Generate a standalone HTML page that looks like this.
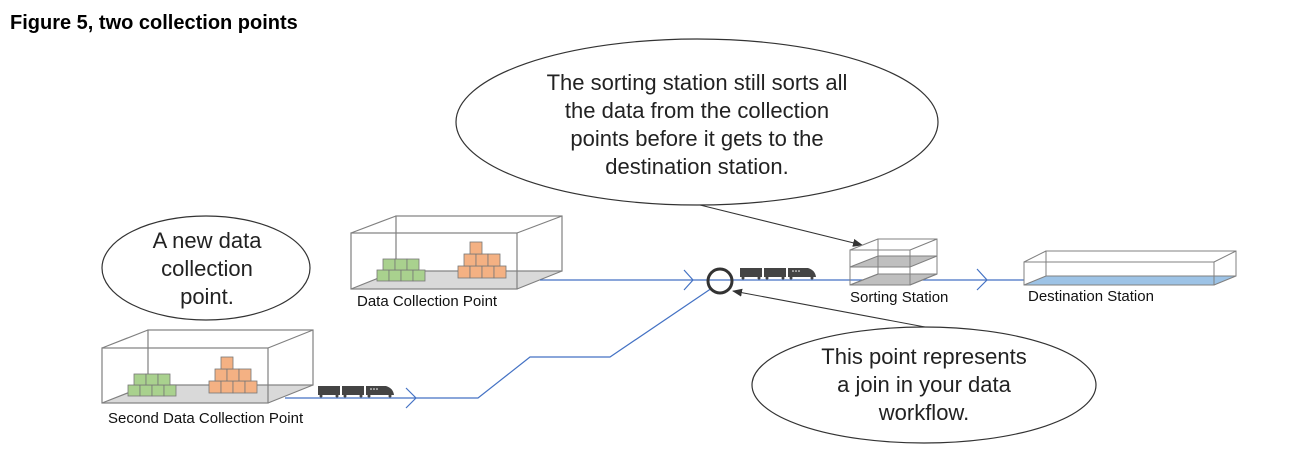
<!DOCTYPE html>
<html><head><meta charset="utf-8"><style>
html,body{margin:0;padding:0;background:#fff;}
svg{display:block;}
text{font-family:"Liberation Sans",sans-serif;}
.c{font-size:22px;fill:#222;text-anchor:middle;}
.l{font-size:15px;fill:#111;}
</style></head><body>
<svg width="1300" height="476" viewBox="0 0 1300 476" xmlns="http://www.w3.org/2000/svg">
<defs>
<marker id="ah" markerWidth="10" markerHeight="8" refX="9" refY="4" orient="auto" markerUnits="userSpaceOnUse"><path d="M0,0 L10,4 L0,8 z" fill="#333"/></marker>
<g id="train">
<rect x="0" y="0" width="22" height="9" fill="#444"/>
<rect x="24" y="0" width="22" height="9" fill="#444"/>
<path d="M48,0 H68 Q75,2 76,9 H48 Z" fill="#444"/>
<circle cx="53" cy="3" r="0.8" fill="#fff"/><circle cx="56" cy="3" r="0.8" fill="#fff"/><circle cx="59" cy="3" r="0.8" fill="#fff"/>
<g fill="#444"><circle cx="3" cy="10" r="1.5"/><circle cx="19" cy="10" r="1.5"/><circle cx="27" cy="10" r="1.5"/><circle cx="43" cy="10" r="1.5"/><circle cx="51" cy="10" r="1.5"/><circle cx="72" cy="10" r="1.5"/></g>
</g>
<g id="blocks" stroke="#777" stroke-width="0.8">
<g fill="#a9d18e">
<rect x="0" y="13" width="12" height="11"/><rect x="12" y="13" width="12" height="11"/><rect x="24" y="13" width="12" height="11"/><rect x="36" y="13" width="12" height="11"/>
<rect x="6" y="2" width="12" height="11"/><rect x="18" y="2" width="12" height="11"/><rect x="30" y="2" width="12" height="11"/>
</g>
<g fill="#f4b183">
<rect x="81" y="9" width="12" height="12"/><rect x="93" y="9" width="12" height="12"/><rect x="105" y="9" width="12" height="12"/><rect x="117" y="9" width="12" height="12"/>
<rect x="87" y="-3" width="12" height="12"/><rect x="99" y="-3" width="12" height="12"/><rect x="111" y="-3" width="12" height="12"/>
<rect x="93" y="-15" width="12" height="12"/>
</g>
</g>
</defs>

<text x="10" y="29" style="font-size:20px;font-weight:bold;fill:#000">Figure 5, two collection points</text>

<!-- top callout -->
<ellipse cx="697" cy="122" rx="241" ry="83" fill="#fff" stroke="#333" stroke-width="1.2"/>
<line x1="700" y1="205" x2="862" y2="245" stroke="#333" stroke-width="1" marker-end="url(#ah)"/>
<text class="c" x="697" y="90">The sorting station still sorts all</text>
<text class="c" x="697" y="118">the data from the collection</text>
<text class="c" x="697" y="146">points before it gets to the</text>
<text class="c" x="697" y="174">destination station.</text>

<!-- left callout -->
<ellipse cx="206" cy="268" rx="104" ry="52" fill="#fff" stroke="#333" stroke-width="1.2"/>
<text class="c" x="207" y="248">A new data</text>
<text class="c" x="207" y="276">collection</text>
<text class="c" x="207" y="304">point.</text>

<!-- data collection point -->
<polygon points="351,289 517,289 562,271 396,271" fill="#d9d9d9"/>
<g fill="none" stroke="#808080" stroke-width="1.2">
<rect x="396" y="216" width="166" height="55"/>
<rect x="351" y="233" width="166" height="56"/>
<line x1="351" y1="233" x2="396" y2="216"/><line x1="517" y1="233" x2="562" y2="216"/>
<line x1="351" y1="289" x2="396" y2="271"/><line x1="517" y1="289" x2="562" y2="271"/>
</g>
<use href="#blocks" x="377" y="257"/>
<text class="l" x="357" y="306">Data Collection Point</text>

<!-- second collection point -->
<polygon points="102,403 268,403 313,385 148,385" fill="#d9d9d9"/>
<g fill="none" stroke="#808080" stroke-width="1.2">
<rect x="148" y="330" width="165" height="55"/>
<rect x="102" y="348" width="166" height="55"/>
<line x1="102" y1="348" x2="148" y2="330"/><line x1="268" y1="348" x2="313" y2="330"/>
<line x1="102" y1="403" x2="148" y2="385"/><line x1="268" y1="403" x2="313" y2="385"/>
</g>
<use href="#blocks" x="128" y="372"/>
<text class="l" x="108" y="423">Second Data Collection Point</text>

<!-- lines -->
<g fill="none" stroke="#4472c4" stroke-width="1.2">
<line x1="540" y1="280" x2="1024" y2="280"/>
<polyline points="285,398 478,398 530,357 610,357 712,288"/>
<polyline points="684,270 693,280 684,290"/>
<polyline points="406,388 416,398 406,408"/>
<polyline points="977,269 987,280 977,290"/>
</g>
<circle cx="720" cy="281" r="12" fill="none" stroke="#333" stroke-width="3"/>
<use href="#train" x="740" y="268"/>
<use href="#train" x="318" y="386"/>

<!-- sorting station -->
<g stroke="#808080" stroke-width="1">
<polygon points="850,267 910,267 937,256 878,256" fill="#bfbfbf"/>
<polygon points="850,285 910,285 937,274 878,274" fill="#bfbfbf"/>
<g fill="none">
<rect x="878" y="239" width="59" height="35"/>
<rect x="850" y="250" width="60" height="35"/>
<line x1="850" y1="250" x2="878" y2="239"/><line x1="910" y1="250" x2="937" y2="239"/>
<line x1="850" y1="285" x2="878" y2="274"/><line x1="910" y1="285" x2="937" y2="274"/>
</g>
</g>
<text class="l" x="850" y="302">Sorting Station</text>

<!-- destination -->
<polygon points="1024,285 1214,285 1236,276 1046,276" fill="#9dc3e6"/>
<g fill="none" stroke="#808080" stroke-width="1">
<rect x="1046" y="251" width="190" height="25"/>
<rect x="1024" y="262" width="190" height="23"/>
<line x1="1024" y1="262" x2="1046" y2="251"/><line x1="1214" y1="262" x2="1236" y2="251"/>
<line x1="1024" y1="285" x2="1046" y2="276"/><line x1="1214" y1="285" x2="1236" y2="276"/>
</g>
<text class="l" x="1028" y="301">Destination Station</text>

<!-- bottom right callout -->
<line x1="925" y1="327" x2="733" y2="291" stroke="#333" stroke-width="1" marker-end="url(#ah)"/>
<ellipse cx="924" cy="385" rx="172" ry="58" fill="#fff" stroke="#333" stroke-width="1.2"/>
<text class="c" x="924" y="364">This point represents</text>
<text class="c" x="924" y="392">a join in your data</text>
<text class="c" x="924" y="420">workflow.</text>
</svg>
</body></html>
